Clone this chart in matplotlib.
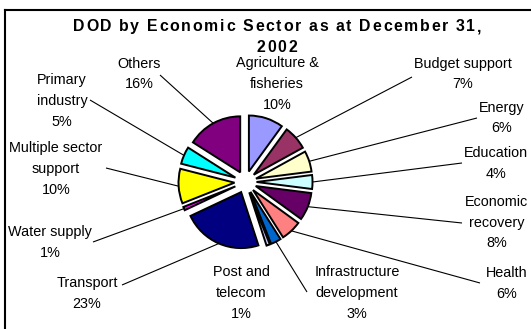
import numpy as np
import matplotlib
matplotlib.use("Agg")
from matplotlib import pyplot as plt
from matplotlib.font_manager import FontProperties

# debt outstanding by sector, percent of total, clockwise from 12 o'clock
sectors = [
    "Agriculture &\nfisheries",
    "Budget support",
    "Energy",
    "Education",
    "Economic\nrecovery",
    "Health",
    "Infrastructure\ndevelopment",
    "Post and\ntelecom",
    "Transport",
    "Water supply",
    "Multiple sector\nsupport",
    "Primary\nindustry",
    "Others",
]
shares = [10, 7, 6, 4, 8, 6, 3, 1, 23, 1, 10, 5, 16]
colors = [
    "#9999FF", "#993366", "#FFFFCC", "#CCFFFF", "#660066", "#FF8080",
    "#0066CC", "#CCCCFF", "#000080", "#FF00FF", "#FFFF00", "#00FFFF",
    "#800080",
]
title_lines = ["DOD by Economic Sector as at December 31,", "2002"]

# layout in pixels (y grows downwards)
W, H = 531, 329
PIE_CENTER = (245.5, 182)
PIE_RADIUS = 56
EXPLODE = 11

label_pos = [
    (277, 84), (463, 74), (502, 118), (496, 163.5), (497, 222.5),
    (507, 283.5), (357, 293), (241, 293), (87, 293.5), (50, 242.5),
    (56, 169), (62, 101), (139, 74),
]
# where each leader line leaves its label (None = no leader)
leader_from = [
    None, (412, 77), (477, 118), (462, 163), (462, 223),
    (480, 283), (307, 292), None, (122, 285), (93, 242),
    (106, 168), (90, 100), (160, 75),
]

LABEL_FONT = "Liberation Sans"


def spaced_text(ax, s, xc, y_base, size, tracking, weight="bold"):
    """Draw s centred on xc with extra space between the letters."""
    fp = FontProperties(family=LABEL_FONT, weight=weight, size=size)
    renderer = ax.figure.canvas.get_renderer()

    def width(t):
        return renderer.get_text_width_height_descent(t, fp, ismath=False)[0]

    base = width("xx")
    adv = [width("x" + c + "x") - base for c in s]
    total = sum(adv) + tracking * (len(s) - 1)
    x = xc - total / 2
    for c, a in zip(s, adv):
        ax.text(x, y_base, c, fontproperties=fp, ha="left", va="baseline")
        x += a + tracking


fig = plt.figure(figsize=(W / 100, H / 100), dpi=100)
ax = fig.add_axes([0, 0, 1, 1])

wedges, _ = ax.pie(
    shares,
    explode=[EXPLODE] * len(shares),
    colors=colors,
    radius=PIE_RADIUS,
    center=PIE_CENTER,
    startangle=-90,
    counterclock=True,
    wedgeprops=dict(edgecolor="black", linewidth=1.4),
)
ax.set_aspect("auto")
ax.set_xlim(0, W)
ax.set_ylim(H, 0)
ax.axis("off")

# leader lines run from the label to the middle of the wedge's rim
for w, src in zip(wedges, leader_from):
    if src is None:
        continue
    ang = np.deg2rad((w.theta1 + w.theta2) / 2)
    tip = (w.center[0] + w.r * np.cos(ang), w.center[1] + w.r * np.sin(ang))
    ax.plot([src[0], tip[0]], [src[1], tip[1]], color="black", lw=0.8,
            solid_capstyle="butt")

for share, text, (lx, ly) in zip(shares, sectors, label_pos):
    ax.text(lx, ly, f"{text}\n{share}%", ha="center", va="center",
            multialignment="center", family=LABEL_FONT, fontsize=10.4,
            linespacing=1.6)

spaced_text(ax, title_lines[0], 277, 31, 11.4, 1.7)
spaced_text(ax, title_lines[1], 277, 52, 11.4, 1.7)

# chart border (right and bottom edges fall outside the canvas)
ax.plot([5, 5], [H + 5, 10], color="black", lw=1.5, clip_on=False)
ax.plot([5, W + 5], [10, 10], color="black", lw=1.5, clip_on=False)

fig.savefig("out.png", dpi=100)
